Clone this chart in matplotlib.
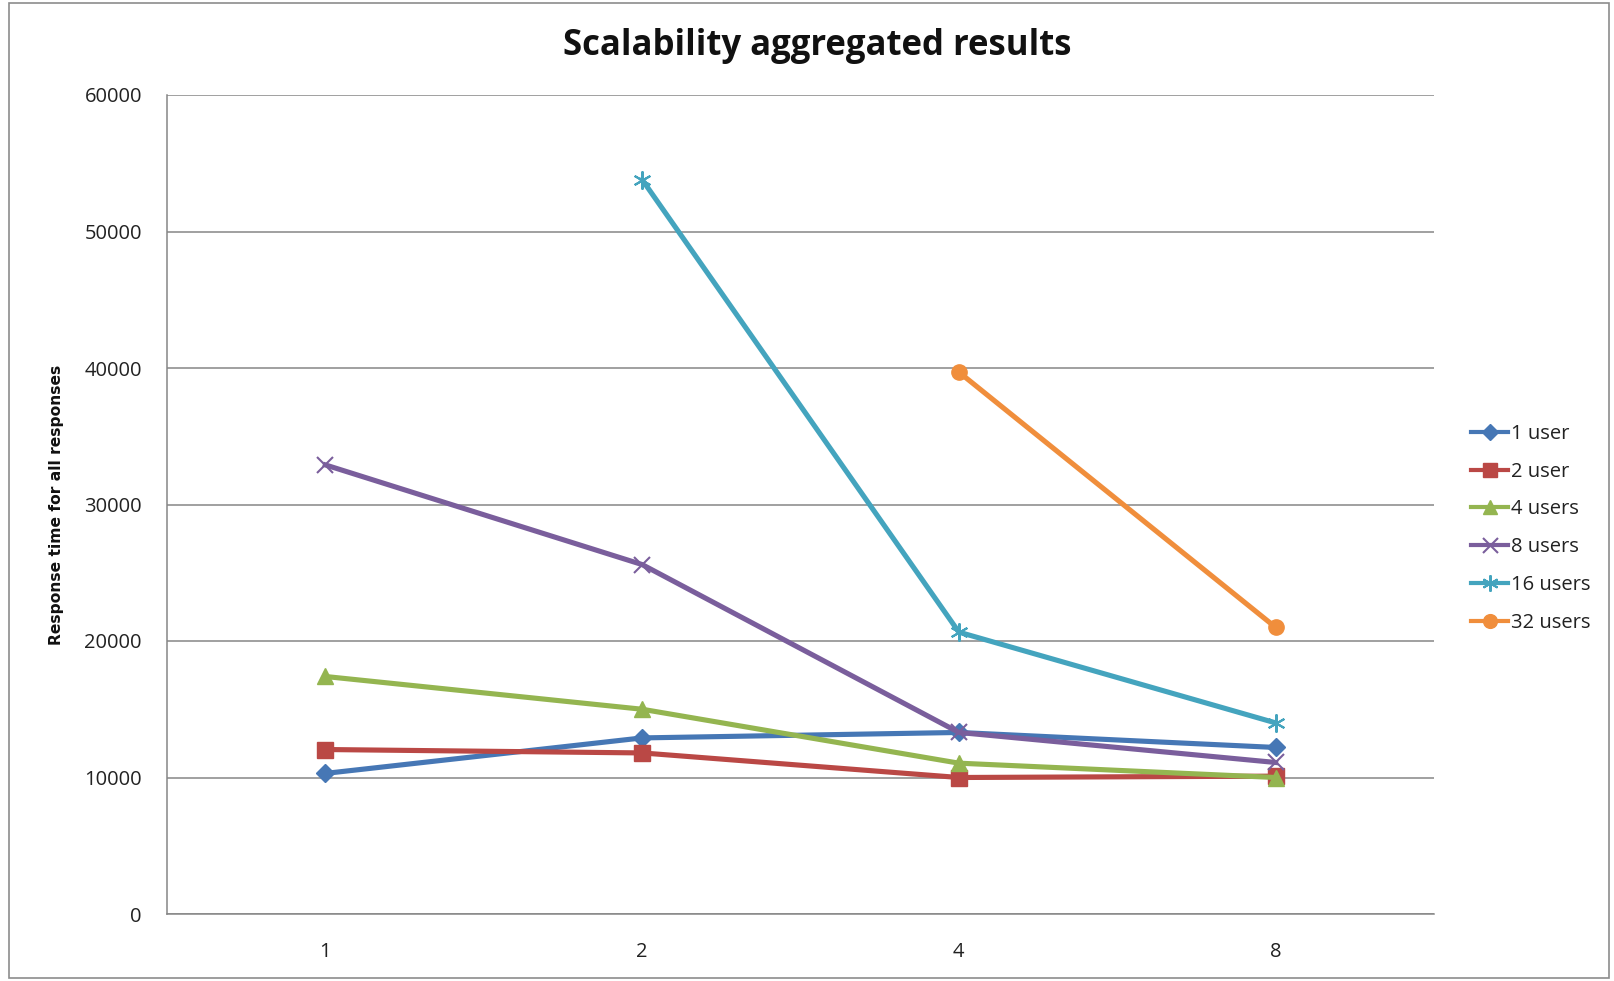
import numpy as np
import matplotlib
matplotlib.use("Agg")
import matplotlib.pyplot as plt
from matplotlib.patches import Rectangle

categories = ["1", "2", "4", "8"]
series_names = ["1 user", "2 user", "4 users", "8 users", "16 users", "32 users"]
user1 = [10300, 12900, 13300, 12200]
user2 = [12050, 11800, 10000, 10100]
users4 = [17400, 15000, 11050, 10000]
users8 = [32900, 25600, 13300, 11100]
users16 = [np.nan, 53800, 20650, 14000]
users32 = [np.nan, np.nan, 39700, 21000]
yticks = [0, 10000, 20000, 30000, 40000, 50000, 60000]
title = "Scalability aggregated results"
ylabel = "Response time for all responses"

colors = ["#4677B5", "#BA4845", "#94B550", "#7A5E9C", "#44A4BE", "#F08E3C"]
markers = ["D", "s", "^", "x", (6, 2, 0), "o"]
msizes = [9, 11, 11, 12, 13, 11]

W, H = 1615, 981
fig = plt.figure(figsize=(W / 100, H / 100), dpi=100)
fig.patch.set_facecolor("white")
fig.patches.append(Rectangle((9 / W, 3 / H), (1609 - 9) / W, (978 - 3) / H,
                             transform=fig.transFigure, fill=False,
                             edgecolor="#8c8c8c", linewidth=1.2))

left, right, top, bottom = 167, 1434, 95, 914
ax = fig.add_axes([left / W, 1 - bottom / H, (right - left) / W, (bottom - top) / H])

x = np.arange(len(categories))
data = [user1, user2, users4, users8, users16, users32]
for vals, name, c, m, ms in zip(data, series_names, colors, markers, msizes):
    mew = 1.5 if m in ("x", (6, 2, 0)) else 1
    ax.plot(x, vals, color=c, linewidth=3.7, marker=m, markersize=ms,
            markeredgewidth=mew, markerfacecolor=c, markeredgecolor=c,
            label=name, zorder=3)

ax.set_xlim(-0.5, len(categories) - 0.5)
ax.set_ylim(0, 60000)
ax.set_yticks(yticks)
ax.set_yticklabels([str(v) for v in yticks])
ax.set_xticks(x)
ax.set_xticklabels(categories)
ax.yaxis.grid(True, color="#868686", linewidth=1.1)
ax.set_axisbelow(True)
for s in ["top", "right"]:
    ax.spines[s].set_visible(False)
for s in ["left", "bottom"]:
    ax.spines[s].set_color("#868686")
    ax.spines[s].set_linewidth(1.1)
ax.tick_params(axis="both", length=0, labelsize=14.5, colors="#222222")
ax.tick_params(axis="y", pad=18)
ax.tick_params(axis="x", pad=20)
for lab in ax.get_xticklabels() + ax.get_yticklabels():
    lab.set_fontfamily("Open Sans")

fig.text(817 / W, 1 - 46 / H, title, ha="center", va="center",
         fontsize=25, fontweight="bold", family="Open Sans", color="#111111")
fig.text(57 / W, 1 - 505 / H, ylabel, ha="center", va="center", rotation=90,
         fontsize=11.2, fontweight="bold", family=["Liberation Sans Narrow", "DejaVu Sans"],
         color="#111111")

leg = fig.legend(loc="upper left", bbox_to_anchor=(1463 / W, 1 - 416 / H),
                 frameon=False, handlelength=1.85,
                 handletextpad=0.12, labelspacing=0.88, borderaxespad=0,
                 prop={"family": "Open Sans", "size": 14.5})
for t in leg.get_texts():
    t.set_color("#222222")
for h in leg.legend_handles:
    h.set_linewidth(3)
    h.set_markersize(h.get_markersize() * 0.9)

fig.savefig("out.png", dpi=100, facecolor="white")
